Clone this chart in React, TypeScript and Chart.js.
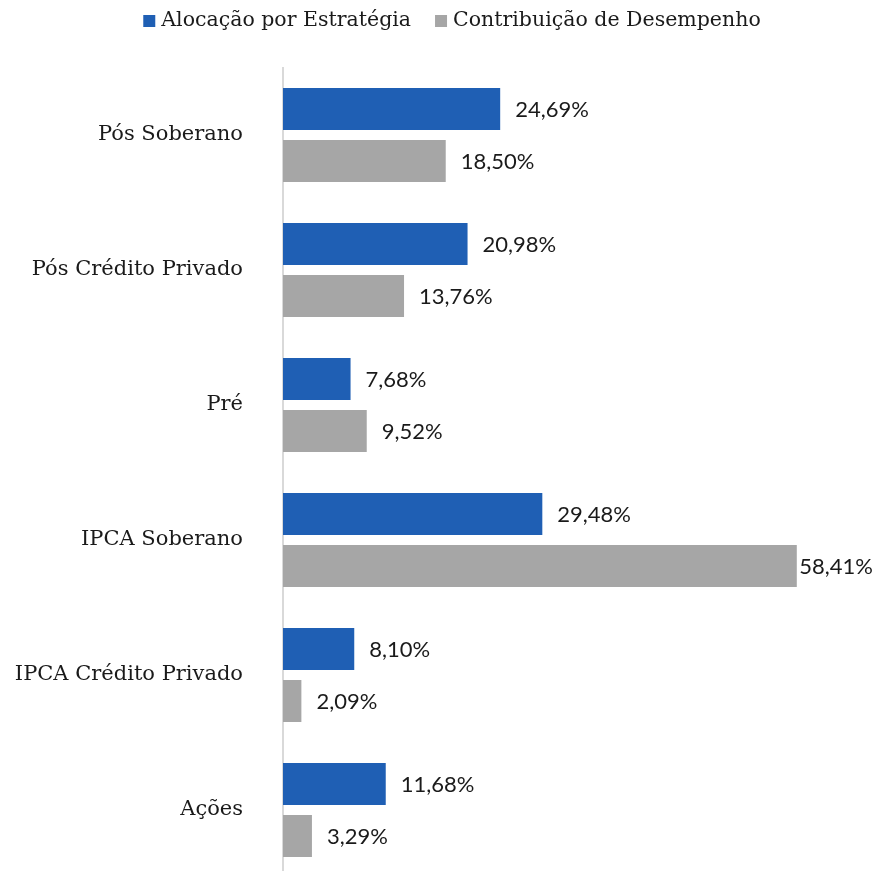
import React, { useEffect, useRef } from "react";
import { Chart, registerables } from "chart.js";

Chart.register(...registerables);

const categories = ["Pós Soberano", "Pós Crédito Privado", "Pré", "IPCA Soberano", "IPCA Crédito Privado", "Ações"];
const alocacao = [24.69, 20.98, 7.68, 29.48, 8.1, 11.68];
const contribuicao = [18.5, 13.76, 9.52, 58.41, 2.09, 3.29];
const seriesNames = ["Alocação por Estratégia", "Contribuição de Desempenho"];
const seriesColors = ["#1f5fb4", "#a6a6a6"];

const fmt = (v: number) => v.toFixed(2).replace(".", ",") + "%";

const labelPlugin = {
  id: "valueLabels",
  afterDatasetsDraw(chart: any) {
    const { ctx, chartArea } = chart;
    ctx.save();
    ctx.font = "22px Lato";
    ctx.fillStyle = "#1a1a1a";
    ctx.textBaseline = "middle";
    ctx.textAlign = "left";
    chart.data.datasets.forEach((ds: any, di: number) => {
      const meta = chart.getDatasetMeta(di);
      meta.data.forEach((bar: any, i: number) => {
        const txt = fmt(ds.data[i]);
        const w = ctx.measureText(txt).width;
        let x = bar.x + 15;
        if (x + w > chartArea.right - 2) x = Math.max(bar.x + 2, chartArea.right - 2 - w);
        ctx.fillText(txt, x, bar.y + 1);
      });
    });
    // legend
    ctx.font = "20.5px 'DejaVu Serif'";
    ctx.textBaseline = "middle";
    const gapBox = 6, gapItem = 24, box = 12;
    const widths = seriesNames.map((n) => ctx.measureText(n).width);
    const total = widths.reduce((a, b) => a + b, 0) + 2 * (box + gapBox) + gapItem;
    let x = 452 - total / 2;
    const y = 21;
    seriesNames.forEach((n, i) => {
      ctx.fillStyle = seriesColors[i];
      ctx.fillRect(x, y - 6, box, box);
      x += box + gapBox;
      ctx.fillStyle = "#1a1a1a";
      ctx.fillText(n, x, y);
      x += widths[i] + gapItem;
    });
    ctx.restore();
  },
};

export default function App() {
  const ref = useRef<HTMLCanvasElement>(null);
  useEffect(() => {
    document.body.style.margin = "0";
    const chart = new Chart(ref.current!, {
      type: "bar",
      data: {
        labels: categories,
        datasets: [
          { label: seriesNames[0], data: alocacao, backgroundColor: seriesColors[0] },
          { label: seriesNames[1], data: contribuicao, backgroundColor: seriesColors[1] },
        ],
      },
      options: {
        indexAxis: "y",
        animation: false,
        responsive: false,
        categoryPercentage: 0.77,
        barPercentage: 0.808,
        layout: { padding: { left: 0, right: 0, top: 67.5, bottom: 0 } },
        plugins: {
          legend: { display: false },
          tooltip: { enabled: false },
        },
        scales: {
          x: { display: false, min: 0, max: 67.3 },
          y: {
            afterFit(scale: any) { scale.width = 283; },
            grid: { display: false, drawTicks: false },
            border: { display: true, color: "#d9d9d9", width: 2 },
            ticks: {
              padding: 40,
              color: "#1a1a1a",
              font: { family: "DejaVu Serif", size: 21 },
            },
          },
        },
      },
      plugins: [labelPlugin],
    });
    return () => chart.destroy();
  }, []);
  return <canvas ref={ref} width={875} height={930} style={{ display: "block" }} />;
}
